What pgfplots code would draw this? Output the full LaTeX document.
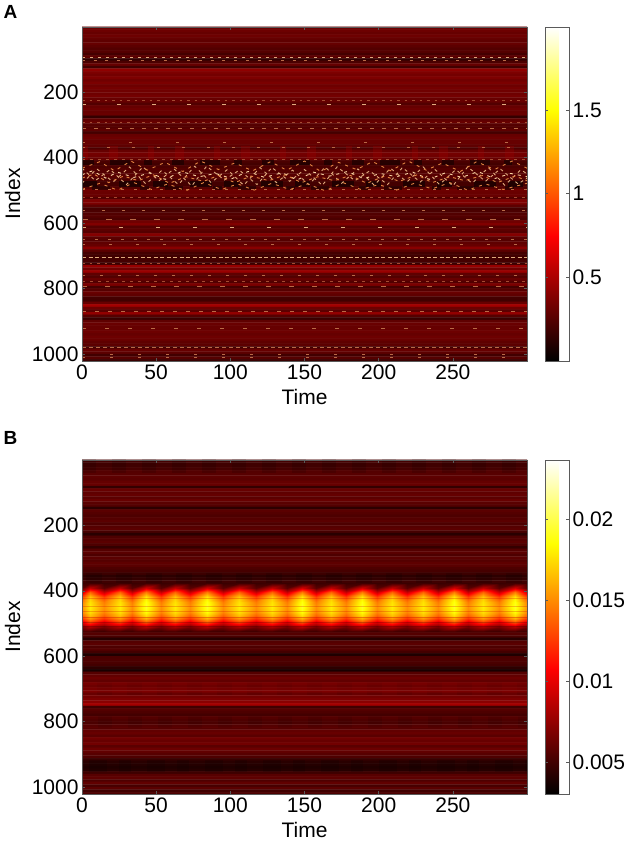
\documentclass[border=0pt]{standalone}
\usepackage{pgfplots}
\pgfplotsset{compat=1.18}
\usepackage{fontspec}
\setmainfont{Liberation Sans}
\definecolor{axgray}{RGB}{90,90,90}
\definecolor{pale}{RGB}{225,170,125}
\definecolor{mid}{RGB}{185,105,70}
\definecolor{dim}{RGB}{165,75,50}
\definecolor{bright}{RGB}{250,215,165}
\definecolor{oran}{RGB}{225,130,65}
\newcommand{\rowd}[4]{\addplot[no marks,line width=.8pt,color=#4,dash pattern=on #2pt off #3pt] coordinates {(0,#1)(300,#1)};}
\pgfplotsset{
  myax/.style={
    scale only axis,width=445pt,height=334pt,
    xmin=0,xmax=300,ymin=0.5,ymax=1021,y dir=reverse,
    xtick={0,50,100,150,200,250},ytick={200,400,600,800,1000},
    tick align=inside,major tick length=3pt,tick style={color=axgray,line width=0.5pt},
    axis line style={color=axgray,line width=0.7pt},
    axis on top,
    /pgf/number format/assume math mode=true,
    /pgf/number format/1000 sep={},
    tick label style={font=\fontsize{21}{24}\selectfont},
    label style={font=\fontsize{21}{24}\selectfont},
    xlabel={Time},ylabel={Index},
    xlabel style={at={(axis description cs:0.5,-0.108)},anchor=center},
    ylabel style={at={(axis description cs:-0.156,0.5)},anchor=center},
    colormap/hot2,colorbar,
    colorbar shift/.style={xshift=18pt},
  },
  mycb/.style={
    at={(parent axis.north east)},anchor=north west,
    width=24pt,
    axis line style={color=axgray,line width=0.7pt},
    tick align=inside,major tick length=3pt,tick style={color=axgray,line width=0.5pt},
    yticklabel pos=right,scaled y ticks=false,
    tick label style={font=\fontsize{21}{24}\selectfont},
    /pgf/number format/assume math mode=true,
  }
}
\begin{document}
\begin{tikzpicture}[x=1pt,y=1pt]
\path[use as bounding box] (0,0) rectangle (630,843);
\node[anchor=center,font=\fontsize{19}{22}\selectfont\bfseries] at (10.5,831) {A};
\node[anchor=center,font=\fontsize{19}{22}\selectfont\bfseries] at (10.5,405) {B};

% ---------- Panel A
\begin{axis}[myax,at={(82pt,482pt)},anchor=south west,
  point meta min=0,point meta max=1.997,
  colorbar style={mycb,ytick={0.5,1,1.5},yticklabels={0.5,1,1.5}}]
\addplot[matrix plot*,mesh/cols=2,point meta=explicit] table[row sep=\\,meta=c,x expr=\thisrow{x}*3]{
x y c\\
0 4 .31\\300 4 .31\\0 12 .32\\300 12 .32\\0 20 .30\\300 20 .30\\0 28 .32\\300 28 .32\\
0 36 .30\\300 36 .30\\0 44 .28\\300 44 .28\\0 52 .30\\300 52 .30\\0 60 .27\\300 60 .27\\
0 68 .24\\300 68 .24\\0 76 .25\\300 76 .25\\0 84 .20\\300 84 .20\\0 92 .27\\300 92 .27\\
0 100 .14\\300 100 .14\\0 108 .22\\300 108 .22\\0 116 .30\\300 116 .30\\0 124 .19\\300 124 .19\\
0 132 .42\\300 132 .42\\0 140 .37\\300 140 .37\\0 148 .34\\300 148 .34\\0 156 .37\\300 156 .37\\
0 164 .33\\300 164 .33\\0 172 .36\\300 172 .36\\0 180 .32\\300 180 .32\\0 188 .34\\300 188 .34\\
0 196 .33\\300 196 .33\\0 204 .32\\300 204 .32\\0 212 .34\\300 212 .34\\0 220 .30\\300 220 .30\\
0 228 .30\\300 228 .30\\0 236 .24\\300 236 .24\\0 244 .30\\300 244 .30\\0 252 .32\\300 252 .32\\
0 260 .30\\300 260 .30\\0 268 .31\\300 268 .31\\0 276 .15\\300 276 .15\\0 284 .28\\300 284 .28\\
0 292 .30\\300 292 .30\\0 300 .25\\300 300 .25\\0 308 .24\\300 308 .24\\0 316 .27\\300 316 .27\\
0 324 .20\\300 324 .20\\0 332 .30\\300 332 .30\\0 340 .32\\300 340 .32\\0 348 .30\\300 348 .30\\
0 356 .30\\300 356 .30\\0 364 .28\\300 364 .28\\0 372 .22\\300 372 .22\\0 380 .30\\300 380 .30\\
0 388 .34\\300 388 .34\\0 396 .33\\300 396 .33\\0 404 .30\\300 404 .30\\0 412 .22\\300 412 .22\\
0 420 .20\\300 420 .20\\0 428 .22\\300 428 .22\\0 436 .24\\300 436 .24\\0 444 .24\\300 444 .24\\
0 452 .26\\300 452 .26\\0 460 .26\\300 460 .26\\0 468 .22\\300 468 .22\\0 476 .20\\300 476 .20\\
0 484 .20\\300 484 .20\\0 492 .24\\300 492 .24\\0 500 .32\\300 500 .32\\0 508 .31\\300 508 .31\\
0 516 .31\\300 516 .31\\0 524 .24\\300 524 .24\\0 532 .37\\300 532 .37\\0 540 .36\\300 540 .36\\
0 548 .27\\300 548 .27\\0 556 .20\\300 556 .20\\0 564 .22\\300 564 .22\\0 572 .24\\300 572 .24\\
0 580 .25\\300 580 .25\\0 588 .22\\300 588 .22\\0 596 .33\\300 596 .33\\0 604 .38\\300 604 .38\\
0 612 .25\\300 612 .25\\0 620 .27\\300 620 .27\\0 628 .25\\300 628 .25\\0 636 .39\\300 636 .39\\
0 644 .27\\300 644 .27\\0 652 .25\\300 652 .25\\0 660 .28\\300 660 .28\\0 668 .30\\300 668 .30\\
0 676 .40\\300 676 .40\\0 684 .27\\300 684 .27\\0 692 .20\\300 692 .20\\0 700 .19\\300 700 .19\\
0 708 .19\\300 708 .19\\0 716 .20\\300 716 .20\\0 724 .17\\300 724 .17\\0 732 .44\\300 732 .44\\
0 740 .33\\300 740 .33\\0 748 .45\\300 748 .45\\0 756 .28\\300 756 .28\\0 764 .24\\300 764 .24\\
0 772 .30\\300 772 .30\\0 780 .24\\300 780 .24\\0 788 .36\\300 788 .36\\0 796 .20\\300 796 .20\\
0 804 .25\\300 804 .25\\0 812 .31\\300 812 .31\\0 820 .28\\300 820 .28\\0 828 .20\\300 828 .20\\
0 836 .19\\300 836 .19\\0 844 .30\\300 844 .30\\0 852 .48\\300 852 .48\\0 860 .32\\300 860 .32\\
0 868 .27\\300 868 .27\\0 876 .43\\300 876 .43\\0 884 .25\\300 884 .25\\0 892 .17\\300 892 .17\\
0 900 .28\\300 900 .28\\0 908 .31\\300 908 .31\\0 916 .30\\300 916 .30\\0 924 .30\\300 924 .30\\
0 932 .32\\300 932 .32\\0 940 .30\\300 940 .30\\0 948 .32\\300 948 .32\\0 956 .31\\300 956 .31\\
0 964 .28\\300 964 .28\\0 972 .27\\300 972 .27\\0 980 .20\\300 980 .20\\0 988 .30\\300 988 .30\\
0 996 .27\\300 996 .27\\0 1004 .19\\300 1004 .19\\0 1012 .25\\300 1012 .25\\0 1020 .17\\300 1020 .17\\
};
% soft red swellings above the band and dark blobs at its edges
\addplot[no marks,line width=14pt,color=red!65!black,opacity=.28,dash pattern=on 6pt off 21pt on 9pt off 30pt] coordinates {(0,386)(300,386)};
\addplot[no marks,line width=5pt,color=black!90!red,opacity=.7,dash pattern=on 12pt off 16pt on 20pt off 14pt on 8pt off 20pt] coordinates {(0,414)(300,414)};
\addplot[no marks,line width=6pt,color=black!90!red,opacity=.8,dash pattern=on 15pt off 22pt on 22pt off 12pt] coordinates {(0,480)(300,480)};
\addplot[no marks,line width=4pt,color=black!90!red,opacity=.6,dash pattern=on 18pt off 30pt on 9pt off 16pt] coordinates {(7,491)(300,491)};
% regular dash rows
\rowd{92}{3}{5}{pale}
\rowd{102}{3}{8.7}{mid}
\rowd{224}{2.5}{5}{dim}
\rowd{237}{4}{31}{pale}
\rowd{293}{2.5}{5}{dim}
\rowd{310}{4}{8}{mid}
\rowd{354}{3}{44}{mid}
\rowd{368}{3}{22}{mid}
\rowd{406}{3}{5}{dim}
\rowd{497}{3}{10}{mid}
\rowd{521}{3}{5}{dim}
\rowd{560}{3}{17}{mid}
\rowd{589}{6}{18}{mid}
\rowd{613}{4}{33}{pale}
\rowd{648}{3}{10}{mid}
\rowd{664}{3}{24}{mid}
\rowd{703}{4}{2.5}{pale}
\rowd{722}{2.5}{5}{dim}
\rowd{759}{3}{15}{mid}
\rowd{779}{2.5}{5.5}{dim}
\rowd{793}{5}{18}{mid}
\rowd{868}{4}{9}{mid}
\rowd{920}{4}{19}{mid}
\rowd{980}{4}{3}{mid}
\rowd{1000}{3}{25}{mid}
\rowd{1011}{3}{25}{mid}
% chevrons of the central band
\addplot[no marks,line width=.9pt,color=pale,dash pattern=on 3pt off 3.5pt] coordinates {(0,432)(9,470)(19,436)(30,482)(41,428)(52,470)(62,434)(74,486)(84,426)(96,468)(106,438)(118,482)(128,430)(140,472)(150,436)(162,484)(172,428)(184,470)(194,440)(206,482)(216,430)(228,474)(238,436)(250,486)(260,428)(272,472)(282,434)(294,480)(300,462)};
\addplot[no marks,line width=.9pt,color=pale,dash pattern=on 3pt off 4pt] coordinates {(0,478)(10,434)(21,474)(32,428)(43,480)(54,438)(65,482)(76,426)(87,476)(98,436)(109,484)(120,430)(131,476)(142,438)(153,482)(164,428)(175,478)(186,434)(197,484)(208,432)(219,474)(230,428)(241,482)(252,436)(263,478)(274,430)(285,484)(296,436)(300,450)};
\addplot[no marks,line width=.9pt,color=bright,dash pattern=on 3pt off 5pt] coordinates {(0,452)(7,440)(16,462)(24,444)(35,460)(46,446)(56,466)(67,442)(79,458)(90,448)(101,464)(112,442)(123,460)(135,446)(145,468)(156,444)(167,456)(179,442)(190,464)(201,448)(212,458)(223,444)(234,466)(245,446)(256,460)(267,442)(278,464)(289,448)(300,458)};
\addplot[no marks,line width=.9pt,color=oran,dash pattern=on 3pt off 4pt] coordinates {(0,462)(8,450)(18,476)(28,456)(38,470)(48,452)(59,478)(70,458)(82,472)(92,454)(103,476)(114,456)(126,470)(137,452)(148,476)(159,458)(170,470)(181,454)(192,478)(204,456)(214,472)(226,452)(236,476)(248,458)(258,470)(270,454)(280,476)(292,456)(300,470)};
\addplot[no marks,line width=.9pt,color=oran,dash pattern=on 3pt off 5pt] coordinates {(0,432)(12,412)(22,440)(33,410)(44,438)(56,414)(68,442)(80,410)(92,436)(103,416)(115,440)(127,412)(138,438)(150,410)(161,442)(173,414)(185,436)(196,412)(208,440)(220,410)(232,438)(243,416)(255,442)(266,412)(278,436)(290,410)(300,432)};
\addplot[no marks,line width=.9pt,color=oran,dash pattern=on 3pt off 5pt] coordinates {(0,497)(12,478)(24,499)(35,476)(47,497)(58,480)(70,501)(82,476)(94,497)(105,480)(116,499)(128,478)(140,497)(152,480)(164,501)(176,476)(188,497)(200,482)(212,499)(224,478)(236,495)(248,476)(260,499)(272,480)(284,497)(300,478)};
\end{axis}

% ---------- Panel B
\begin{axis}[myax,at={(82pt,49pt)},anchor=south west,
  point meta min=0.00307,point meta max=0.02362,
  colorbar style={mycb,ytick={0.005,0.01,0.015,0.02},yticklabels={0.005,0.01,0.015,0.02}}]
\addplot[matrix plot*,mesh/cols=2,point meta=explicit] table[row sep=\\,meta=c,x expr=\thisrow{x}*3]{
x y c\\
0 4 .0052\\300 4 .0052\\0 12 .0050\\300 12 .0050\\0 20 .0050\\300 20 .0050\\0 28 .0052\\300 28 .0052\\
0 36 .0056\\300 36 .0056\\0 44 .0057\\300 44 .0057\\0 52 .0059\\300 52 .0059\\0 60 .0058\\300 60 .0058\\
0 68 .0061\\300 68 .0061\\0 76 .0062\\300 76 .0062\\0 84 .0046\\300 84 .0046\\0 92 .0062\\300 92 .0062\\
0 100 .0059\\300 100 .0059\\0 108 .0061\\300 108 .0061\\0 116 .0058\\300 116 .0058\\0 124 .0062\\300 124 .0062\\
0 132 .0058\\300 132 .0058\\0 140 .0056\\300 140 .0056\\0 148 .0044\\300 148 .0044\\0 156 .0058\\300 156 .0058\\
0 164 .0056\\300 164 .0056\\0 172 .0054\\300 172 .0054\\0 180 .0056\\300 180 .0056\\0 188 .0058\\300 188 .0058\\
0 196 .0054\\300 196 .0054\\0 204 .0056\\300 204 .0056\\0 212 .0058\\300 212 .0058\\0 220 .0052\\300 220 .0052\\
0 228 .0043\\300 228 .0043\\0 236 .0054\\300 236 .0054\\0 244 .0056\\300 244 .0056\\0 252 .0058\\300 252 .0058\\
0 260 .0054\\300 260 .0054\\0 268 .0046\\300 268 .0046\\0 276 .0056\\300 276 .0056\\0 284 .0058\\300 284 .0058\\
0 292 .0054\\300 292 .0054\\0 300 .0058\\300 300 .0058\\0 308 .0056\\300 308 .0056\\0 316 .0059\\300 316 .0059\\
0 324 .0058\\300 324 .0058\\0 332 .0054\\300 332 .0054\\0 340 .0052\\300 340 .0052\\0 348 .0049\\300 348 .0049\\
0 356 .0044\\300 356 .0044\\0 364 .0046\\300 364 .0046\\0 372 .0050\\300 372 .0050\\0 380 .0050\\300 380 .0050\\
0 388 .0050\\300 388 .0050\\0 396 .0050\\300 396 .0050\\0 404 .0050\\300 404 .0050\\0 412 .0050\\300 412 .0050\\
0 420 .0050\\300 420 .0050\\0 428 .0050\\300 428 .0050\\0 436 .0050\\300 436 .0050\\0 444 .0050\\300 444 .0050\\
0 452 .0050\\300 452 .0050\\0 460 .0050\\300 460 .0050\\0 468 .0050\\300 468 .0050\\0 476 .0050\\300 476 .0050\\
0 484 .0050\\300 484 .0050\\0 492 .0050\\300 492 .0050\\0 500 .0050\\300 500 .0050\\0 508 .0050\\300 508 .0050\\
0 516 .0050\\300 516 .0050\\0 524 .0048\\300 524 .0048\\0 532 .0056\\300 532 .0056\\0 540 .0053\\300 540 .0053\\
0 548 .0042\\300 548 .0042\\0 556 .0056\\300 556 .0056\\0 564 .0058\\300 564 .0058\\0 572 .0054\\300 572 .0054\\
0 580 .0056\\300 580 .0056\\0 588 .0051\\300 588 .0051\\0 596 .0040\\300 596 .0040\\0 604 .0053\\300 604 .0053\\
0 612 .0054\\300 612 .0054\\0 620 .0053\\300 620 .0053\\0 628 .0051\\300 628 .0051\\0 636 .0044\\300 636 .0044\\
0 644 .0038\\300 644 .0038\\0 652 .0056\\300 652 .0056\\0 660 .0060\\300 660 .0060\\0 668 .0063\\300 668 .0063\\
0 676 .0060\\300 676 .0060\\0 684 .0065\\300 684 .0065\\0 692 .0062\\300 692 .0062\\0 700 .0065\\300 700 .0065\\
0 708 .0067\\300 708 .0067\\0 716 .0060\\300 716 .0060\\0 724 .0065\\300 724 .0065\\0 732 .0068\\300 732 .0068\\
0 740 .0072\\300 740 .0072\\0 748 .0080\\300 748 .0080\\0 756 .0050\\300 756 .0050\\0 764 .0056\\300 764 .0056\\
0 772 .0054\\300 772 .0054\\0 780 .0051\\300 780 .0051\\0 788 .0054\\300 788 .0054\\0 796 .0052\\300 796 .0052\\
0 804 .0051\\300 804 .0051\\0 812 .0054\\300 812 .0054\\0 820 .0056\\300 820 .0056\\0 828 .0060\\300 828 .0060\\
0 836 .0062\\300 836 .0062\\0 844 .0058\\300 844 .0058\\0 852 .0065\\300 852 .0065\\0 860 .0062\\300 860 .0062\\
0 868 .0065\\300 868 .0065\\0 876 .0058\\300 876 .0058\\0 884 .0063\\300 884 .0063\\0 892 .0060\\300 892 .0060\\
0 900 .0057\\300 900 .0057\\0 908 .0054\\300 908 .0054\\0 916 .0047\\300 916 .0047\\0 924 .0043\\300 924 .0043\\
0 932 .0042\\300 932 .0042\\0 940 .0040\\300 940 .0040\\0 948 .0042\\300 948 .0042\\0 956 .0049\\300 956 .0049\\
0 964 .0057\\300 964 .0057\\0 972 .0059\\300 972 .0059\\0 980 .0054\\300 980 .0054\\0 988 .0060\\300 988 .0060\\
0 996 .0052\\300 996 .0052\\0 1004 .0058\\300 1004 .0058\\0 1012 .0050\\300 1012 .0050\\0 1020 .0054\\300 1020 .0054\\
};
% slow vertical modulation of the dark zones
\addplot[no marks,line width=14pt,color=black,opacity=.13,dash pattern=on 14pt off 16pt] coordinates {(0,18)(300,18)};
\addplot[no marks,line width=10pt,color=black,opacity=.14,dash pattern=on 16pt off 14pt] coordinates {(3,360)(300,360)};
\addplot[no marks,line width=12pt,color=black,opacity=.15,dash pattern=on 18pt off 12pt on 12pt off 16pt] coordinates {(5,935)(300,935)};
\addplot[no marks,line width=12pt,color=red!70!black,opacity=.08,dash pattern=on 16pt off 14pt] coordinates {(0,800)(300,800)};
\addplot[no marks,line width=14pt,color=red!70!black,opacity=.09,dash pattern=on 15pt off 15pt] coordinates {(0,700)(300,700)};
% the central band with its 15 pulses
\addplot[surf,shader=interp,mesh/cols=31,point meta=explicit] table[row sep=\\,meta=c]{
x y c\\
0 375 .0048\\5.4 375 .0050\\15 375 .0048\\25.4 375 .0050\\34 375 .0048\\43 375 .0050\\53 375 .0048\\63 375 .0050\\73 375 .0048\\84 375 .0050\\95 375 .0048\\106 375 .0050\\117 375 .0048\\128 375 .0050\\138 375 .0048\\148 375 .0050\\158 375 .0048\\168 375 .0050\\178 375 .0048\\189 375 .0050\\199 375 .0048\\209 375 .0050\\219 375 .0048\\230 375 .0050\\240 375 .0048\\251 375 .0050\\260 375 .0048\\270 375 .0050\\281 375 .0048\\292 375 .0050\\300 375 .0048\\
0 392 .0058\\5.4 392 .0090\\15 392 .0058\\25.4 392 .0090\\34 392 .0058\\43 392 .0095\\53 392 .0058\\63 392 .0090\\73 392 .0058\\84 392 .0095\\95 392 .0058\\106 392 .0090\\117 392 .0058\\128 392 .0090\\138 392 .0058\\148 392 .0095\\158 392 .0058\\168 392 .0090\\178 392 .0058\\189 392 .0095\\199 392 .0058\\209 392 .0090\\219 392 .0058\\230 392 .0090\\240 392 .0058\\251 392 .0095\\260 392 .0058\\270 392 .0090\\281 392 .0058\\292 392 .0095\\300 392 .0058\\
0 405 .0090\\5.4 405 .0138\\15 405 .0090\\25.4 405 .0138\\34 405 .0090\\43 405 .0145\\53 405 .0090\\63 405 .0138\\73 405 .0090\\84 405 .0145\\95 405 .0090\\106 405 .0138\\117 405 .0090\\128 405 .0138\\138 405 .0090\\148 405 .0145\\158 405 .0090\\168 405 .0138\\178 405 .0090\\189 405 .0145\\199 405 .0090\\209 405 .0138\\219 405 .0090\\230 405 .0138\\240 405 .0090\\251 405 .0145\\260 405 .0090\\270 405 .0138\\281 405 .0090\\292 405 .0145\\300 405 .0090\\
0 420 .0128\\5.4 420 .0168\\15 420 .0128\\25.4 420 .0168\\34 420 .0128\\43 420 .0178\\53 420 .0128\\63 420 .0168\\73 420 .0128\\84 420 .0178\\95 420 .0128\\106 420 .0168\\117 420 .0128\\128 420 .0168\\138 420 .0128\\148 420 .0178\\158 420 .0128\\168 420 .0168\\178 420 .0128\\189 420 .0178\\199 420 .0128\\209 420 .0168\\219 420 .0128\\230 420 .0168\\240 420 .0128\\251 420 .0178\\260 420 .0128\\270 420 .0168\\281 420 .0128\\292 420 .0178\\300 420 .0128\\
0 435 .0145\\5.4 435 .0176\\15 435 .0145\\25.4 435 .0176\\34 435 .0145\\43 435 .0188\\53 435 .0145\\63 435 .0176\\73 435 .0145\\84 435 .0188\\95 435 .0145\\106 435 .0176\\117 435 .0145\\128 435 .0176\\138 435 .0145\\148 435 .0188\\158 435 .0145\\168 435 .0176\\178 435 .0145\\189 435 .0188\\199 435 .0145\\209 435 .0176\\219 435 .0145\\230 435 .0176\\240 435 .0145\\251 435 .0188\\260 435 .0145\\270 435 .0176\\281 435 .0145\\292 435 .0188\\300 435 .0145\\
0 450 .0152\\5.4 450 .0180\\15 450 .0152\\25.4 450 .0180\\34 450 .0152\\43 450 .0192\\53 450 .0152\\63 450 .0180\\73 450 .0152\\84 450 .0192\\95 450 .0152\\106 450 .0180\\117 450 .0152\\128 450 .0180\\138 450 .0152\\148 450 .0192\\158 450 .0152\\168 450 .0180\\178 450 .0152\\189 450 .0192\\199 450 .0152\\209 450 .0180\\219 450 .0152\\230 450 .0180\\240 450 .0152\\251 450 .0192\\260 450 .0152\\270 450 .0180\\281 450 .0152\\292 450 .0192\\300 450 .0152\\
0 465 .0148\\5.4 465 .0176\\15 465 .0148\\25.4 465 .0176\\34 465 .0148\\43 465 .0186\\53 465 .0148\\63 465 .0176\\73 465 .0148\\84 465 .0186\\95 465 .0148\\106 465 .0176\\117 465 .0148\\128 465 .0176\\138 465 .0148\\148 465 .0186\\158 465 .0148\\168 465 .0176\\178 465 .0148\\189 465 .0186\\199 465 .0148\\209 465 .0176\\219 465 .0148\\230 465 .0176\\240 465 .0148\\251 465 .0186\\260 465 .0148\\270 465 .0176\\281 465 .0148\\292 465 .0186\\300 465 .0148\\
0 480 .0132\\5.4 480 .0162\\15 480 .0132\\25.4 480 .0162\\34 480 .0132\\43 480 .0170\\53 480 .0132\\63 480 .0162\\73 480 .0132\\84 480 .0170\\95 480 .0132\\106 480 .0162\\117 480 .0132\\128 480 .0162\\138 480 .0132\\148 480 .0170\\158 480 .0132\\168 480 .0162\\178 480 .0132\\189 480 .0170\\199 480 .0132\\209 480 .0162\\219 480 .0132\\230 480 .0162\\240 480 .0132\\251 480 .0170\\260 480 .0132\\270 480 .0162\\281 480 .0132\\292 480 .0170\\300 480 .0132\\
0 495 .0100\\5.4 495 .0128\\15 495 .0100\\25.4 495 .0128\\34 495 .0100\\43 495 .0135\\53 495 .0100\\63 495 .0128\\73 495 .0100\\84 495 .0135\\95 495 .0100\\106 495 .0128\\117 495 .0100\\128 495 .0128\\138 495 .0100\\148 495 .0135\\158 495 .0100\\168 495 .0128\\178 495 .0100\\189 495 .0135\\199 495 .0100\\209 495 .0128\\219 495 .0100\\230 495 .0128\\240 495 .0100\\251 495 .0135\\260 495 .0100\\270 495 .0128\\281 495 .0100\\292 495 .0135\\300 495 .0100\\
0 510 .0066\\5.4 510 .0082\\15 510 .0066\\25.4 510 .0082\\34 510 .0066\\43 510 .0085\\53 510 .0066\\63 510 .0082\\73 510 .0066\\84 510 .0085\\95 510 .0066\\106 510 .0082\\117 510 .0066\\128 510 .0082\\138 510 .0066\\148 510 .0085\\158 510 .0066\\168 510 .0082\\178 510 .0066\\189 510 .0085\\199 510 .0066\\209 510 .0082\\219 510 .0066\\230 510 .0082\\240 510 .0066\\251 510 .0085\\260 510 .0066\\270 510 .0082\\281 510 .0066\\292 510 .0085\\300 510 .0066\\
0 525 .0046\\5.4 525 .0048\\15 525 .0046\\25.4 525 .0048\\34 525 .0046\\43 525 .0048\\53 525 .0046\\63 525 .0048\\73 525 .0046\\84 525 .0048\\95 525 .0046\\106 525 .0048\\117 525 .0046\\128 525 .0048\\138 525 .0046\\148 525 .0048\\158 525 .0046\\168 525 .0048\\178 525 .0046\\189 525 .0048\\199 525 .0046\\209 525 .0048\\219 525 .0046\\230 525 .0048\\240 525 .0046\\251 525 .0048\\260 525 .0046\\270 525 .0048\\281 525 .0046\\292 525 .0048\\300 525 .0046\\
};
% fine stripes over the band
\addplot[no marks,line width=1pt,color=red!80!black,opacity=.25] coordinates {(0,425)(300,425)};
\addplot[no marks,line width=1pt,color=red!80!black,opacity=.25] coordinates {(0,447)(300,447)};
\addplot[no marks,line width=1pt,color=red!80!black,opacity=.25] coordinates {(0,462)(300,462)};
\addplot[no marks,line width=1pt,color=red!80!black,opacity=.4] coordinates {(0,482)(300,482)};
\addplot[no marks,line width=1pt,color=black,opacity=.22] coordinates {(0,498)(300,498)};
\addplot[no marks,line width=1pt,color=black,opacity=.22] coordinates {(0,508)(300,508)};
\end{axis}
\end{tikzpicture}
\end{document}
